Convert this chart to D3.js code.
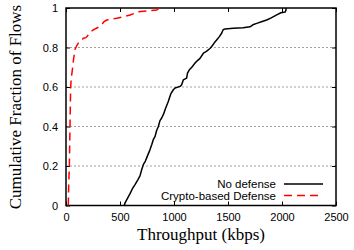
<!DOCTYPE html>
<html><head><meta charset="utf-8">
<script src="https://cdn.jsdelivr.net/npm/d3@7"></script>
<style>
html,body{margin:0;padding:0;background:#fff;}
svg{display:block;}
</style></head>
<body>
<svg id="chart" width="354" height="250"></svg>
<script>
// ---- Data ----
const xTicks = [0, 500, 1000, 1500, 2000, 2500];
const yTicks = [0, 0.2, 0.4, 0.6, 0.8, 1];
const yTickLabels = ["0", "0.2", "0.4", "0.6", "0.8", "1"];
const gridValues = [0.2, 0.4, 0.6, 0.8];
const seriesNames = ["No defense", "Crypto-based Defense"];

const noDefenseX = [540,548,593,615,639,665,685,700,716,735,747,778,795,808,825,839,855,870,886,905,917,935,947,970,994,1010,1056,1070,1086,1117,1125,1142,1165,1194,1220,1241,1272,1300,1333,1349,1375,1395,1420,1441,1455,1472,1549,1640,1704,1730,1766,1810,1858,1900,1951,1990,2030,2037,2037];
const noDefenseY = [0,0.015,0.06,0.085,0.106,0.13,0.15,0.18,0.207,0.225,0.241,0.283,0.31,0.333,0.35,0.38,0.40,0.43,0.443,0.465,0.485,0.51,0.527,0.565,0.586,0.595,0.603,0.61,0.636,0.645,0.67,0.687,0.70,0.721,0.735,0.745,0.771,0.78,0.795,0.805,0.825,0.838,0.855,0.872,0.89,0.894,0.897,0.90,0.905,0.915,0.922,0.93,0.939,0.95,0.965,0.976,0.98,0.99,1.0];

const cryptoX = [21,25,31,34,37,40,43,50,62,70,83,100,114,140,160,185,207,230,253,290,330,350,377,420,469,530,593,620,654,750,840,864];
const cryptoY = [0,0.1,0.2,0.3,0.4,0.5,0.6,0.65,0.7,0.74,0.79,0.81,0.822,0.83,0.847,0.85,0.864,0.88,0.889,0.9,0.914,0.93,0.939,0.944,0.948,0.955,0.965,0.97,0.98,0.985,0.99,1.0];

// ---- Layout ----
const svg = d3.select("#chart");
const L = 66, R = 336, T = 8, B = 205.5;
const x = d3.scaleLinear().domain([0, 2500]).range([L, R]);
const y = d3.scaleLinear().domain([0, 1]).range([B, T]);
const tickFont = "'Liberation Sans', Arial, sans-serif";
const serif = "'Liberation Serif', 'Times New Roman', serif";

// grid
svg.append("g").selectAll("line").data(gridValues).join("line")
  .attr("x1", L).attr("x2", R)
  .attr("y1", d => y(d)).attr("y2", d => y(d))
  .attr("stroke", "#a0a0a0").attr("stroke-width", 1)
  .attr("stroke-dasharray", "2,2");

// axes (ticks inward)
const tickLen = 4;
const gBottom = svg.append("g").attr("transform", `translate(0,${B})`)
  .call(d3.axisBottom(x).tickValues(xTicks).tickSizeInner(-tickLen).tickSizeOuter(0).tickPadding(8)
    .tickFormat(d3.format("d")));
const gTop = svg.append("g").attr("transform", `translate(0,${T})`)
  .call(d3.axisTop(x).tickValues(xTicks).tickSizeInner(-tickLen).tickSizeOuter(0).tickFormat(""));
const gLeft = svg.append("g").attr("transform", `translate(${L},0)`)
  .call(d3.axisLeft(y).tickValues(yTicks).tickSizeInner(-tickLen).tickSizeOuter(0).tickPadding(8)
    .tickFormat((d, i) => yTickLabels[i]));
const gRight = svg.append("g").attr("transform", `translate(${R},0)`)
  .call(d3.axisRight(y).tickValues(yTicks).tickSizeInner(-tickLen).tickSizeOuter(0).tickFormat(""));

[gBottom, gTop, gLeft, gRight].forEach(g => {
  g.select(".domain").remove();
  g.selectAll(".tick line").attr("stroke", "#000").attr("stroke-width", 1);
  g.selectAll(".tick text").attr("font-family", tickFont).attr("font-size", "11px").attr("fill", "#000");
});

// frame
svg.append("rect").attr("x", L).attr("y", T).attr("width", R - L).attr("height", B - T)
  .attr("fill", "none").attr("stroke", "#000").attr("stroke-width", 1.5);

// lines
const line = d3.line().x(d => x(d[0])).y(d => y(d[1]));
const ndData = noDefenseX.map((v, i) => [v, noDefenseY[i]]);
const crData = cryptoX.map((v, i) => [v, cryptoY[i]]);
svg.append("path").datum(ndData).attr("d", line)
  .attr("fill", "none").attr("stroke", "#000").attr("stroke-width", 1.5).attr("stroke-linejoin", "round");
svg.append("path").datum(crData).attr("d", line)
  .attr("fill", "none").attr("stroke", "#ff0000").attr("stroke-width", 1.5)
  .attr("stroke-dasharray", "8,5");

// legend
const legend = svg.append("g");
const legY = [184, 195.5];
const styles = [{c: "#000", d: null}, {c: "#ff0000", d: "8,5"}];
seriesNames.forEach((n, i) => {
  legend.append("text").attr("x", 276).attr("y", legY[i]).attr("dy", "0.35em")
    .attr("text-anchor", "end").attr("font-family", tickFont).attr("font-size", "11.5px").text(n);
  const l = legend.append("line").attr("x1", 284).attr("x2", 323).attr("y1", legY[i]).attr("y2", legY[i])
    .attr("stroke", styles[i].c).attr("stroke-width", 1.5);
  if (styles[i].d) l.attr("stroke-dasharray", styles[i].d);
});

// axis labels
svg.append("text").attr("x", 201).attr("y", 240).attr("text-anchor", "middle")
  .attr("font-family", serif).attr("font-size", "17px").text("Throughput (kbps)");
svg.append("text").attr("transform", "translate(21,107) rotate(-90)").attr("text-anchor", "middle")
  .attr("font-family", serif).attr("font-size", "17px").text("Cumulative Fraction of Flows");
</script>
</body></html>
